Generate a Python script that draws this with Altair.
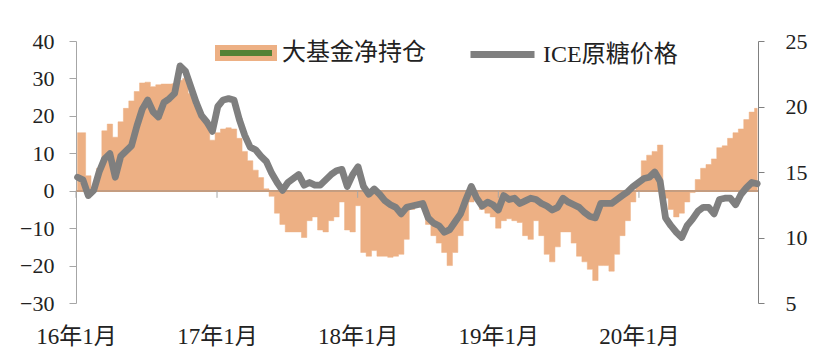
import altair as alt
import pandas as pd

# Fortnightly observations starting 2016-01-05
START = "2016-01-05"

FUND_NET = [
    15.5, 15.5, 4, 1, 6, 16, 17.8, 14.3, 18.4, 22,
    24, 26.5, 28.8, 29, 27.8, 28.3, 28.5, 28.5, 28.6, 29.5,
    30, 26, 23, 20, 18, 13.5, 15.5, 16.5, 16.8, 16.5,
    14, 10.5, 8, 5.5, 3.5, 0.5, -1.5, -6, -9, -11,
    -11, -11, -12.5, -8, -7, -10.5, -11, -8, -7, -3,
    -10.5, -11, -4, -16.5, -17.5, -16, -17.5, -17.5, -17.8, -17.5,
    -17, -13, -5, -3, -4.5, -9, -12, -14, -16.5, -20,
    -16.5, -12, -8, -3, -1, -5, -6, -7, -10, -8,
    -7.5, -8, -8.5, -12, -13, -8, -12, -17, -19, -15,
    -11, -11, -14, -17.5, -19, -21, -24, -20, -20, -21.5,
    -17, -12, -8, -3, 2, 8, 9.5, 10.5, 12.2, -2,
    -5, -7, -6, -3, -0.5, 3, 6, 7, 8.5, 11.5,
    12, 14, 15.5, 16.5, 19, 21, 22,
]

ICE_PRICE = [
    14.6, 14.4, 13.2, 13.6, 15, 16, 16.4, 14.6, 16.2, 16.6,
    17.0, 18.5, 19.8, 20.5, 19.6, 19.2, 20.3, 20.6, 21, 23.1,
    22.7, 21.5, 20.3, 19.3, 18.8, 18.1, 20.0, 20.5, 20.6, 20.5,
    19, 17.8, 16.9, 16.7, 16.2, 15.8, 14.9, 14.2, 13.6, 14.2,
    14.5, 14.8, 14, 14.2, 14.0, 14.0, 14.4, 14.8, 15.1, 15.2,
    13.9, 14.8, 15.4, 13.9, 13.3, 13.7, 13.3, 12.8, 12.5, 12.3,
    11.8, 12.3, 12.4, 12.5, 12.6, 11.5, 11.1, 10.9, 10.4, 10.6,
    11.2, 11.8, 12.9, 13.9, 13, 12.4, 12.7, 12.5, 12.1, 13.2,
    12.9, 13.0, 12.6, 12.8, 13, 12.9, 12.6, 12.4, 12.1, 12.3,
    13, 12.7, 12.5, 12.3, 11.9, 11.6, 11.5, 12.6, 12.6, 12.6,
    12.9, 13.2, 13.5, 13.9, 14.2, 14.5, 14.6, 15, 14.3, 11.5,
    10.9, 10.4, 10, 10.9, 11.4, 12, 12.3, 12.3, 11.8, 12.9,
    13.0, 13.0, 12.5, 13.3, 13.8, 14.2, 14.1,
]

TICK_YEARS = [2016, 2017, 2018, 2019, 2020]
LEFT_TICKS = [-30, -20, -10, 0, 10, 20, 30, 40]
RIGHT_TICKS = [5, 10, 15, 20, 25]
SERIES_FUND = "大基金净持仓"
SERIES_ICE = "ICE原糖价格"

ORANGE = "#EDB084"
GREEN = "#548235"
GREY = "#7F7F7F"
FONT = "'Liberation Serif', 'Noto Sans CJK SC', serif"
TEXT = "#222222"

dates = pd.date_range(START, periods=len(FUND_NET), freq="14D").strftime("%Y-%m-%d")
df = pd.DataFrame({
    "date": dates,
    "pos": FUND_NET,
    "price": ICE_PRICE,
    "s1": SERIES_FUND,
    "s2": SERIES_ICE,
})
ticks_df = pd.DataFrame({"date": [f"{y}-01-01" for y in TICK_YEARS]})

x_scale = alt.Scale(
    type="utc",
    domain=[alt.DateTime(year=2016, month=1, date=1, utc=True),
            alt.DateTime(year=2020, month=11, date=5, utc=True)],
)
x_axis = alt.Axis(
    values=[alt.DateTime(year=y, month=1, date=1, utc=True) for y in TICK_YEARS],
    labelExpr="utcFormat(datum.value, '%y') + '年1月'",
    domain=False, ticks=False, grid=False, title=None,
    labelPadding=22, labelFontSize=23, labelFont=FONT, labelColor=TEXT,
    labelOverlap=False, labelFlush=False, labelBound=False,
)
left_scale = alt.Scale(domain=[-30, 40], nice=False, zero=False)
left_axis = alt.Axis(
    values=LEFT_TICKS, title=None, grid=False,
    domainColor="#A6A6A6", tickColor="#A6A6A6", tickSize=7,
    labelPadding=15, labelFontSize=22, labelFont=FONT, labelColor=TEXT,
)

area = alt.Chart(df).mark_area(
    interpolate="step", strokeWidth=0.5
).encode(
    x=alt.X("date:T", scale=x_scale, axis=x_axis),
    y=alt.Y("pos:Q", scale=left_scale, axis=left_axis),
    # the condition always holds for the area; the default value feeds the legend swatch
    fill=alt.condition("datum.pos > -1000", alt.value(ORANGE), alt.value(GREEN)),
    stroke=alt.Stroke("s1:N", scale=alt.Scale(domain=[SERIES_FUND], range=[ORANGE]),
                      legend=alt.Legend(
                          title=None, orient="none", legendX=139, legendY=-19,
                          symbolType="M-1,-0.193H1V0.193H-1Z", symbolSize=3249,
                          symbolStrokeWidth=5,
                          labelFont=FONT, labelFontSize=24, labelColor=TEXT,
                          labelOffset=5, padding=0,
                      )),
)

zero_rule = alt.Chart(df).mark_rule(color="#C49C80", strokeWidth=1).encode(
    y=alt.YDatum(0, axis=left_axis, scale=left_scale)
)

tick_marks = alt.Chart(ticks_df).mark_rule(color="#A6A6A6", strokeWidth=1).encode(
    x=alt.X("date:T", scale=x_scale, axis=x_axis),
    y=alt.YDatum(0, axis=left_axis, scale=left_scale),
    y2=alt.Y2Datum(-1.9),
)

line = alt.Chart(df).mark_line(
    strokeWidth=6.8, strokeCap="round", strokeJoin="round"
).encode(
    x=alt.X("date:T", scale=x_scale, axis=x_axis),
    y=alt.Y("price:Q", scale=alt.Scale(domain=[5, 25], nice=False, zero=False),
            axis=alt.Axis(
                orient="right", values=RIGHT_TICKS, title=None, grid=False,
                domainColor="#808080", tickColor="#808080", tickSize=6,
                labelPadding=21, labelFontSize=22, labelFont=FONT, labelColor=TEXT,
            )),
    color=alt.Color("s2:N", scale=alt.Scale(domain=[SERIES_ICE], range=[GREY]),
                    legend=alt.Legend(
                        title=None, orient="none", legendX=391, legendY=-22,
                        symbolType="stroke", symbolSize=4096, symbolStrokeWidth=7,
                        labelFont=FONT, labelFontSize=24, labelColor=TEXT,
                        labelOffset=5, padding=0,
                    )),
)

inner = alt.layer(area, zero_rule, tick_marks)
chart = alt.layer(inner, line).resolve_scale(y="independent").properties(
    width=682, height=262,
    autosize=alt.AutoSizeParams(type="none"),
    padding={"left": 68, "top": 33, "right": 50, "bottom": 45},
).configure_view(stroke=None)

chart.save("out.html", embed_options={"renderer": "svg", "actions": False})
